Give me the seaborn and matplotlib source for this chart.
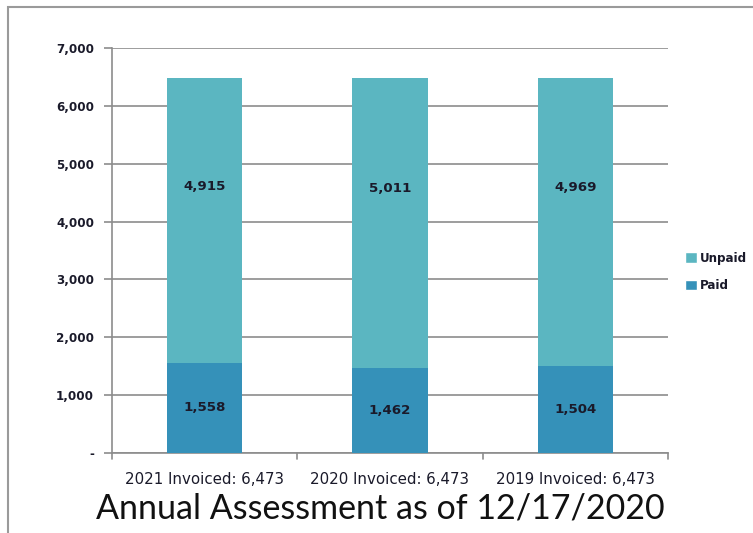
import matplotlib
matplotlib.use("Agg")
import matplotlib.pyplot as plt
import seaborn as sns
import pandas as pd
from matplotlib.patches import Patch, Rectangle

years = ["2021", "2020", "2019"]
invoiced = [6473, 6473, 6473]
paid = [1558, 1462, 1504]
unpaid = [4915, 5011, 4969]
categories = [f"{y} Invoiced: {v:,}" for y, v in zip(years, invoiced)]

sns.set_theme(style="white")
plt.rcParams['font.family'] = ['DejaVu Sans']

c_unpaid = "#5BB6C1"
c_paid = "#3591B9"
txt = "#1a1a2a"

df = pd.DataFrame({"cat": categories, "paid": paid, "unpaid": unpaid})
df["total"] = df["paid"] + df["unpaid"]

fig = plt.figure(figsize=(7.53, 5.33), dpi=100)
ax = fig.add_axes([112/753, 1-453/533, 556/753, 405/533])

sns.barplot(data=df, x="cat", y="total", color=c_unpaid, width=0.405, ax=ax,
            saturation=1, edgecolor="none", zorder=2)
sns.barplot(data=df, x="cat", y="paid", color=c_paid, width=0.405, ax=ax,
            saturation=1, edgecolor="none", zorder=3)

ax.set_ylim(0, 7000)
ax.set_xlim(-0.5, 2.5)
ax.set_yticks(range(0, 7001, 1000))
ax.set_yticklabels(["-" if v == 0 else f"{v:,}" for v in range(0, 7001, 1000)],
                   fontsize=8.6, color=txt, fontweight="bold")
ax.yaxis.grid(True, color="#8c8c8c", linewidth=1.2, zorder=0)
ax.set_axisbelow(True)
ax.set_xlabel("")
ax.set_ylabel("")
ax.tick_params(axis="y", length=6, width=1.2, color="#8c8c8c", left=True, pad=7)
ax.tick_params(axis="x", length=0, pad=14, labelcolor=txt)
for lbl in ax.get_xticklabels():
    lbl.set_fontsize(10.8)
for s in ["top", "right"]:
    ax.spines[s].set_visible(False)
for s in ["left", "bottom"]:
    ax.spines[s].set_color("#8c8c8c")
    ax.spines[s].set_linewidth(1.2)

# category boundary ticks on x axis
for xb in [-0.5, 0.5, 1.5, 2.5]:
    ax.plot([xb, xb], [0, -0.014], transform=ax.get_xaxis_transform(),
            color="#8c8c8c", linewidth=1.2, clip_on=False)

for i, (p, u) in enumerate(zip(paid, unpaid)):
    ax.text(i, p / 2, f"{p:,}", ha="center", va="center", fontsize=9.6,
            color=txt, fontweight="bold", zorder=5)
    ax.text(i, p + u * 0.62, f"{u:,}", ha="center", va="center", fontsize=9.6,
            color=txt, fontweight="bold", zorder=5)

handles = [Patch(facecolor=c_unpaid, label="Unpaid"),
           Patch(facecolor=c_paid, label="Paid")]
leg = fig.legend(handles=handles, loc="center left",
                 bbox_to_anchor=(674/753, 1-272/533), frameon=False,
                 fontsize=8.6, handlelength=1.0, handleheight=1.0,
                 handletextpad=0.3, labelspacing=1.2)
for t in leg.get_texts():
    t.set_fontweight("bold")
    t.set_color(txt)

fig.text(380/753, 1-509/533, "Annual Assessment as of 12/17/2020",
         ha="center", va="center", fontsize=24.5, color="#111111",
         family=["Lato", "DejaVu Sans"])

# outer frame (partially visible)
fig.patches.append(Rectangle((8/753, -0.1), 1.0, 1 - 7/533 + 0.1,
                             transform=fig.transFigure, fill=False,
                             edgecolor="#9a9a9a", linewidth=1.5))

fig.savefig("out.png", dpi=100)
